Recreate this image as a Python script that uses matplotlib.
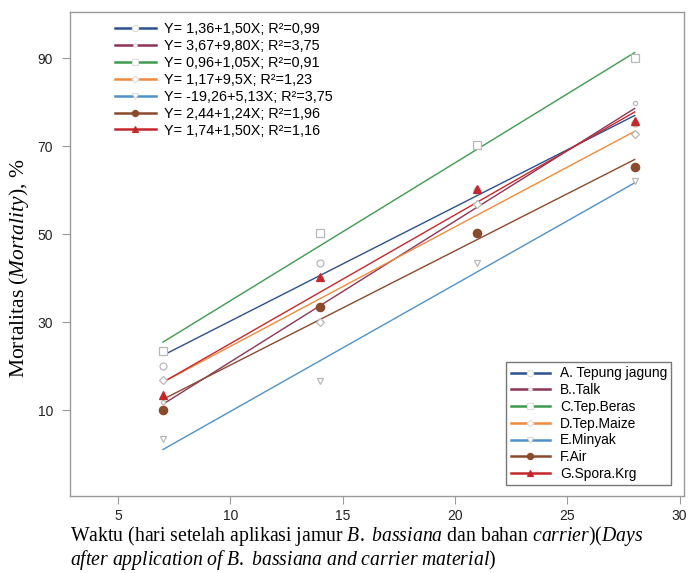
import matplotlib
matplotlib.use('Agg')
import matplotlib.pyplot as plt
from matplotlib.lines import Line2D
import numpy as np

plt.rcParams['font.family'] = ['Liberation Sans', 'DejaVu Sans']
plt.rcParams['mathtext.fontset'] = 'custom'
plt.rcParams['mathtext.rm'] = 'Liberation Serif'
plt.rcParams['mathtext.it'] = 'Liberation Serif:italic'

# Days after application
days = [7, 14, 21, 28]

# Observed mortality (%) per carrier
obs_a = [20.1, 43.5, 60.0, 75.2]
obs_b = [12.0, 30.0, 57.0, 79.8]
obs_c = [23.4, 50.2, 70.2, 90.1]
obs_d = [16.8, 30.0, 57.0, 72.7]
obs_e = [3.5, 16.7, 43.5, 62.0]
obs_f = [10.2, 33.4, 50.2, 65.3]
obs_g = [13.6, 40.2, 60.2, 75.8]

# Fitted lines, value at day 7 and day 28
fit_days = [7, 28]
fit_a = [22.5, 77.0]
fit_b = [11.4, 78.6]
fit_c = [25.5, 91.3]
fit_d = [16.4, 73.4]
fit_e = [1.1, 61.7]
fit_f = [12.5, 67.0]
fit_g = [16.4, 77.8]

names = ['A. Tepung jagung', 'B..Talk', 'C.Tep.Beras', 'D.Tep.Maize',
         'E.Minyak', 'F.Air', 'G.Spora.Krg']
equations = ['Y= 1,36+1,50X; R²=0,99', 'Y= 3,67+9,80X; R²=3,75',
             'Y= 0,96+1,05X; R²=0,91', 'Y= 1,17+9,5X; R²=1,23',
             'Y= -19,26+5,13X; R²=3,75', 'Y= 2,44+1,24X; R²=1,96',
             'Y= 1,74+1,50X; R²=1,16']

colors = ['#2b5190', '#8e3458', '#3f9a4f', '#f08a3c', '#4f92c9', '#8a4a2c', '#c4282c']
markers = ['o', 'o', 's', 'D', 'v', 'o', '^']
msizes = [5, 3, 5.5, 4, 5, 6, 5.5]
leg_sizes = [4.5, 2.5, 4.5, 3.5, 4, 4.5, 4]
filled = [False, False, False, False, False, True, True]

observed = [obs_a, obs_b, obs_c, obs_d, obs_e, obs_f, obs_g]
fitted = [fit_a, fit_b, fit_c, fit_d, fit_e, fit_f, fit_g]

fig = plt.figure(figsize=(6.92, 5.73), dpi=100)
ax = fig.add_axes([0.101, 0.134, 0.887, 0.845])

handles = []
for i in range(7):
    ax.plot(fit_days, fitted[i], color=colors[i], lw=1.0, zorder=2)
    if filled[i]:
        fc, ec = colors[i], colors[i]
    else:
        fc, ec = 'white', '#b8b8b8'
    ax.plot(days, observed[i], ls='none', marker=markers[i], ms=msizes[i],
            mfc=fc, mec=ec, mew=0.9, zorder=3)
    handles.append(Line2D([], [], color=colors[i], lw=1.8, marker=markers[i],
                          ms=leg_sizes[i], mfc=fc, mec=ec if filled[i] else '#dddddd', mew=0.8))

ax.set_xlim(2.86, 30.18)
ax.set_ylim(-9.5, 100.5)
ax.set_xticks([5, 10, 15, 20, 25, 30])
ax.set_yticks([10, 30, 50, 70, 90])

for s in ax.spines.values():
    s.set_color('#9a9a9a')
    s.set_linewidth(1.0)
ax.tick_params(axis='both', colors='#9a9a9a', labelcolor='#222222',
               labelsize=10, length=6, width=0.8)
ax.tick_params(axis='x', pad=3)
ax.tick_params(axis='y', pad=6)

leg1 = ax.legend(handles, equations, loc='upper left', bbox_to_anchor=(0.068, 0.985),
                 frameon=False, fontsize=10.4, handlelength=2.9, handletextpad=0.5,
                 labelspacing=0.2, borderpad=0.2, borderaxespad=0)
ax.add_artist(leg1)

leg2 = ax.legend(handles, names, loc='lower right', bbox_to_anchor=(0.98, 0.023),
                 frameon=True, fancybox=False, fontsize=9.9, handlelength=2.9,
                 handletextpad=0.7, labelspacing=0.2, borderpad=0.3, borderaxespad=0)
leg2.get_frame().set_edgecolor('#555555')
leg2.get_frame().set_linewidth(1.0)

# axis titles (serif, partly italic)
fig.text(0.027, 0.532, 'Mortalitas ($Mortality$), %', fontsize=15.5,
         family='Liberation Serif', rotation=90, ha='center', va='center')
fig.text(0.101, 0.085,
         'Waktu (hari setelah aplikasi jamur $B.\\ bassiana$ dan bahan $carrier$)$(Days$\n'
         '$after\\ application\\ of\\ B.\\ bassiana\\ and\\ carrier\\ material)$',
         fontsize=14.2, family='Liberation Serif', ha='left', va='top', linespacing=1.0)

fig.savefig('out.png', dpi=100)
